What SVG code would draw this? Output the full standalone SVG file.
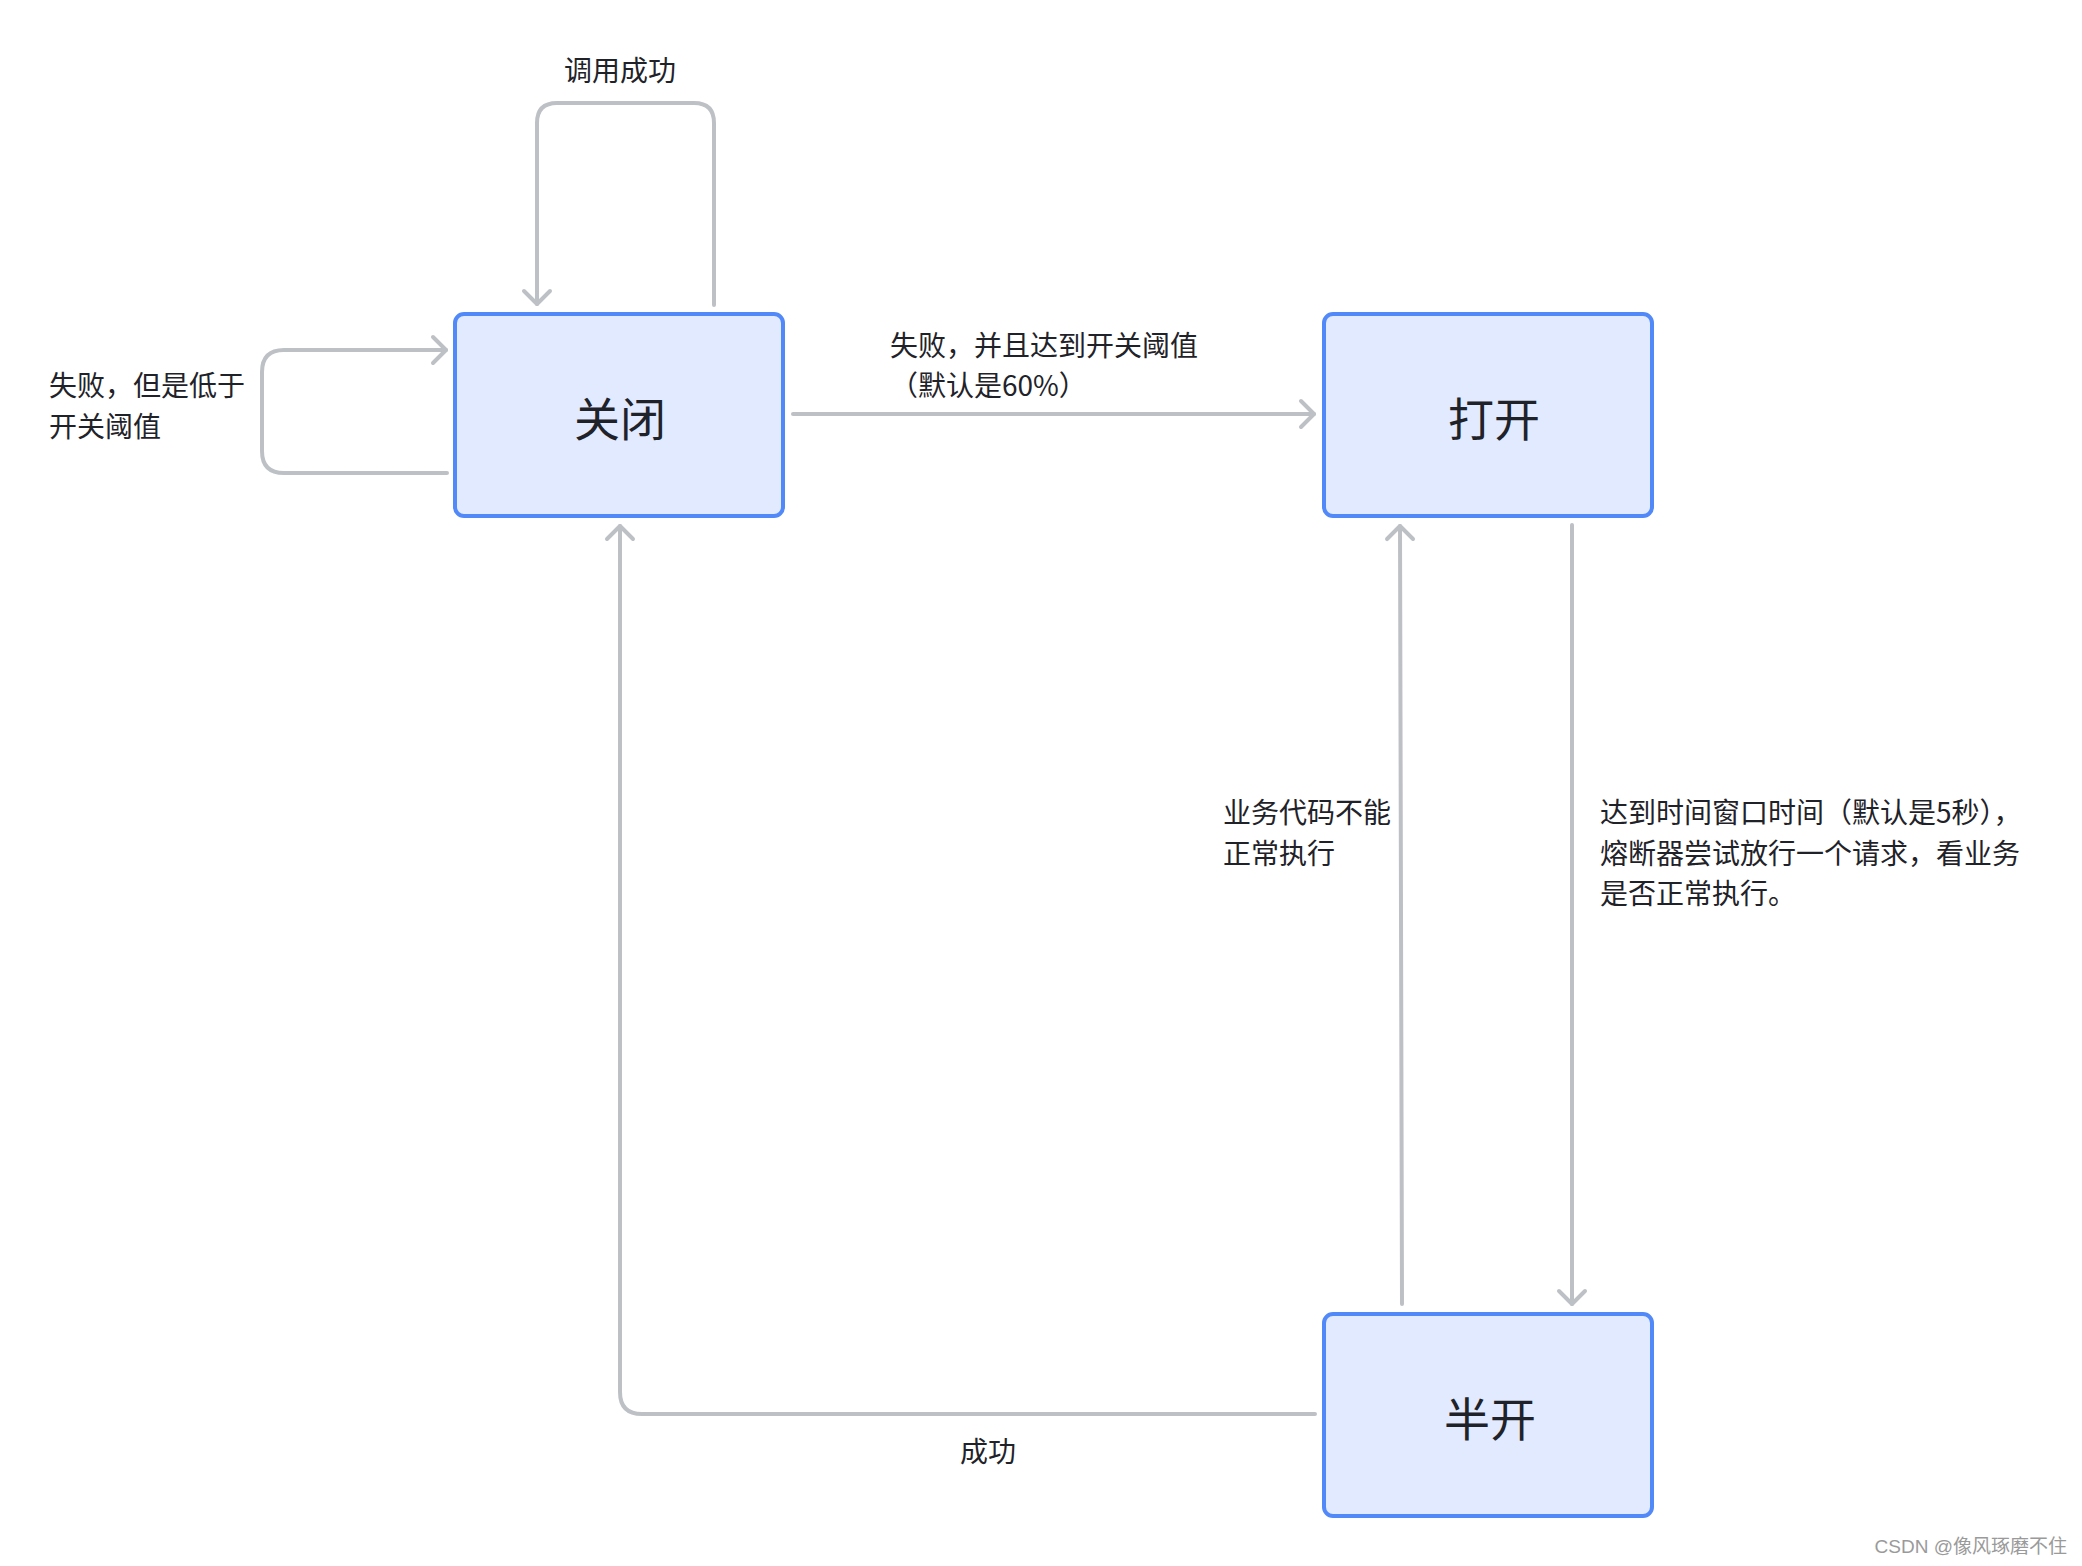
<svg xmlns="http://www.w3.org/2000/svg" width="2082" height="1566" viewBox="0 0 2082 1566">
<style>
.node rect{fill:#e1eaff;stroke:#5289f8;stroke-width:4}
.node text{font-family:"Noto Sans CJK SC","Noto Sans",sans-serif;font-size:46px;fill:#1f2329;text-anchor:middle;dominant-baseline:central}
.lbl{font-family:"Noto Sans CJK SC","Noto Sans",sans-serif;font-size:28px;fill:#1f2329;dominant-baseline:central}
.edge{fill:none;stroke:#bdc0c5;stroke-width:4;stroke-linecap:round;marker-end:url(#arr)}
.wm{font-family:"Liberation Sans","Noto Sans CJK SC",sans-serif;font-size:19px;fill:#9a9a9a;text-anchor:end}
</style>
<defs>
<marker id="arr" viewBox="-16 -16 32 32" markerWidth="32" markerHeight="32" refX="0" refY="0" orient="auto" markerUnits="userSpaceOnUse">
<path d="M-13,-13 L0,0 L-13,13" fill="none" stroke="#bdc0c5" stroke-width="4" stroke-linecap="round" stroke-linejoin="round"/>
</marker>
</defs>
<rect width="2082" height="1566" fill="#ffffff"/>
<g id="connectors">
<path class="edge" d="M714,305 V123 Q714,103 694,103 H557 Q537,103 537,123 V304"/>
<path class="edge" d="M447,473 H284 Q262,473 262,451 V372 Q262,350 284,350 H446"/>
<path class="edge" d="M793,414 H1314"/>
<path class="edge" d="M1572,525 V1304"/>
<path class="edge" d="M1402,1304 L1400,526"/>
<path class="edge" d="M1315,1414 H642 Q620,1414 620,1392 V526"/>
</g>
<g id="edge-labels">
<text class="lbl" x="620" y="69" text-anchor="middle">调用成功</text>
<text class="lbl" x="49" y="384">失败，但是低于</text>
<text class="lbl" x="49" y="425">开关阈值</text>
<text class="lbl" x="890" y="344">失败，并且达到开关阈值</text>
<text class="lbl" x="890" y="384">（默认是60%）</text>
<text class="lbl" x="1223" y="811">业务代码不能</text>
<text class="lbl" x="1223" y="852">正常执行</text>
<text class="lbl" x="1600" y="811">达到时间窗口时间（默认是5秒），</text>
<text class="lbl" x="1600" y="852">熔断器尝试放行一个请求，看业务</text>
<text class="lbl" x="1600" y="892">是否正常执行。</text>
<text class="lbl" x="988" y="1450" text-anchor="middle">成功</text>
</g>
<g id="node-closed" class="node">
<rect x="455" y="314" width="328" height="202" rx="9"/>
<text x="620" y="416">关闭</text>
</g>
<g id="node-open" class="node">
<rect x="1324" y="314" width="328" height="202" rx="9"/>
<text x="1494" y="416">打开</text>
</g>
<g id="node-half" class="node">
<rect x="1324" y="1314" width="328" height="202" rx="9"/>
<text x="1490" y="1416">半开</text>
</g>
<text class="wm" x="2067" y="1553">CSDN @像风琢磨不住</text>
</svg>
